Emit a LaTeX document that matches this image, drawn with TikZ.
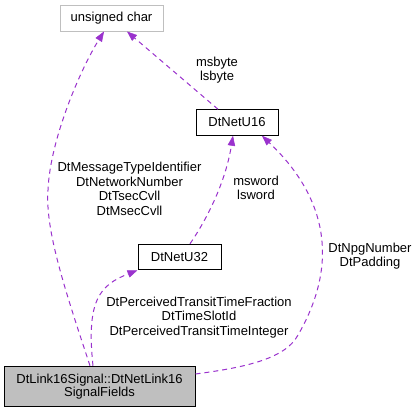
\documentclass[tikz,border=0pt]{standalone}
\usepackage{fontspec}
\setmainfont{Liberation Sans}
\usetikzlibrary{arrows.meta}
\definecolor{edgepurple}{HTML}{9A32CD}
\definecolor{boxgray}{HTML}{BFBFBF}
\begin{document}
\begin{tikzpicture}[x=1pt,y=-1pt,
  every node/.style={font=\fontsize{13}{14.5}\selectfont, inner sep=0pt, align=center},
  classbox/.style={draw=black, line width=1pt, fill=white, minimum height=25.5pt},
  extbox/.style={draw=boxgray, line width=1pt, fill=white, minimum height=26pt},
  mainbox/.style={draw=black, line width=1pt, fill=boxgray, minimum height=40.5pt,
    font=\fontsize{13}{12.8}\selectfont},
  uses/.style={draw=edgepurple, line width=1pt, dash pattern=on 5pt off 4pt,
    -{Triangle[length=10pt,width=7.5pt,fill=edgepurple,line width=0.5pt]}},
  elabel/.style={fill=none}
]
\path[use as bounding box] (0,0) rectangle (419,413);

\node[extbox, minimum width=103pt] (uchar) at (111.5,18) {unsigned char};
\node[classbox, minimum width=82pt] (u16) at (237,122.5) {DtNetU16};
\node[classbox, minimum width=83pt] (u32) at (179.5,257) {DtNetU32};
\node[mainbox, minimum width=191pt] (main) at (99.5,386.5) {DtLink16Signal::DtNetLink16\\SignalFields};

% edges
\draw[uses] ([xshift=-9.5pt]main.north) .. controls (65,290) and (45,230) .. (48,190)
   .. controls (50,140) and (80,70) .. ([xshift=-7.5pt]uchar.south);
\draw[uses] ([xshift=-19pt]u16.north) -- ([xshift=15.5pt]uchar.south);
\draw[uses] ([xshift=10.5pt]u32.north) .. controls (205,222) and (225,185) .. ([xshift=-4pt]u16.south);
\draw[uses] ([xshift=-6.5pt]main.north) .. controls (86,300) and (100,285) .. (u32.south west);
\draw[uses] ([yshift=12.5pt]main.east) .. controls (240,368) and (285,360) .. (298,335)
   .. controls (330,280) and (340,210) .. ([xshift=25pt]u16.south);

% labels
\node[elabel] (l1) at (129.5,189) {DtMessageTypeIdentifier\\DtNetworkNumber\\DtTsecCvll\\DtMsecCvll};
\node[elabel] (l2) at (217,70) {msbyte\\lsbyte};
\node[elabel] (l3) at (256,188) {msword\\lsword};
\node[elabel] (l4) at (199,317.5) {DtPerceivedTransitTimeFraction\\DtTimeSlotId\\DtPerceivedTransitTimeInteger};
\node[elabel] (l5) at (370,256) {DtNpgNumber\\DtPadding};
\end{tikzpicture}
\end{document}
